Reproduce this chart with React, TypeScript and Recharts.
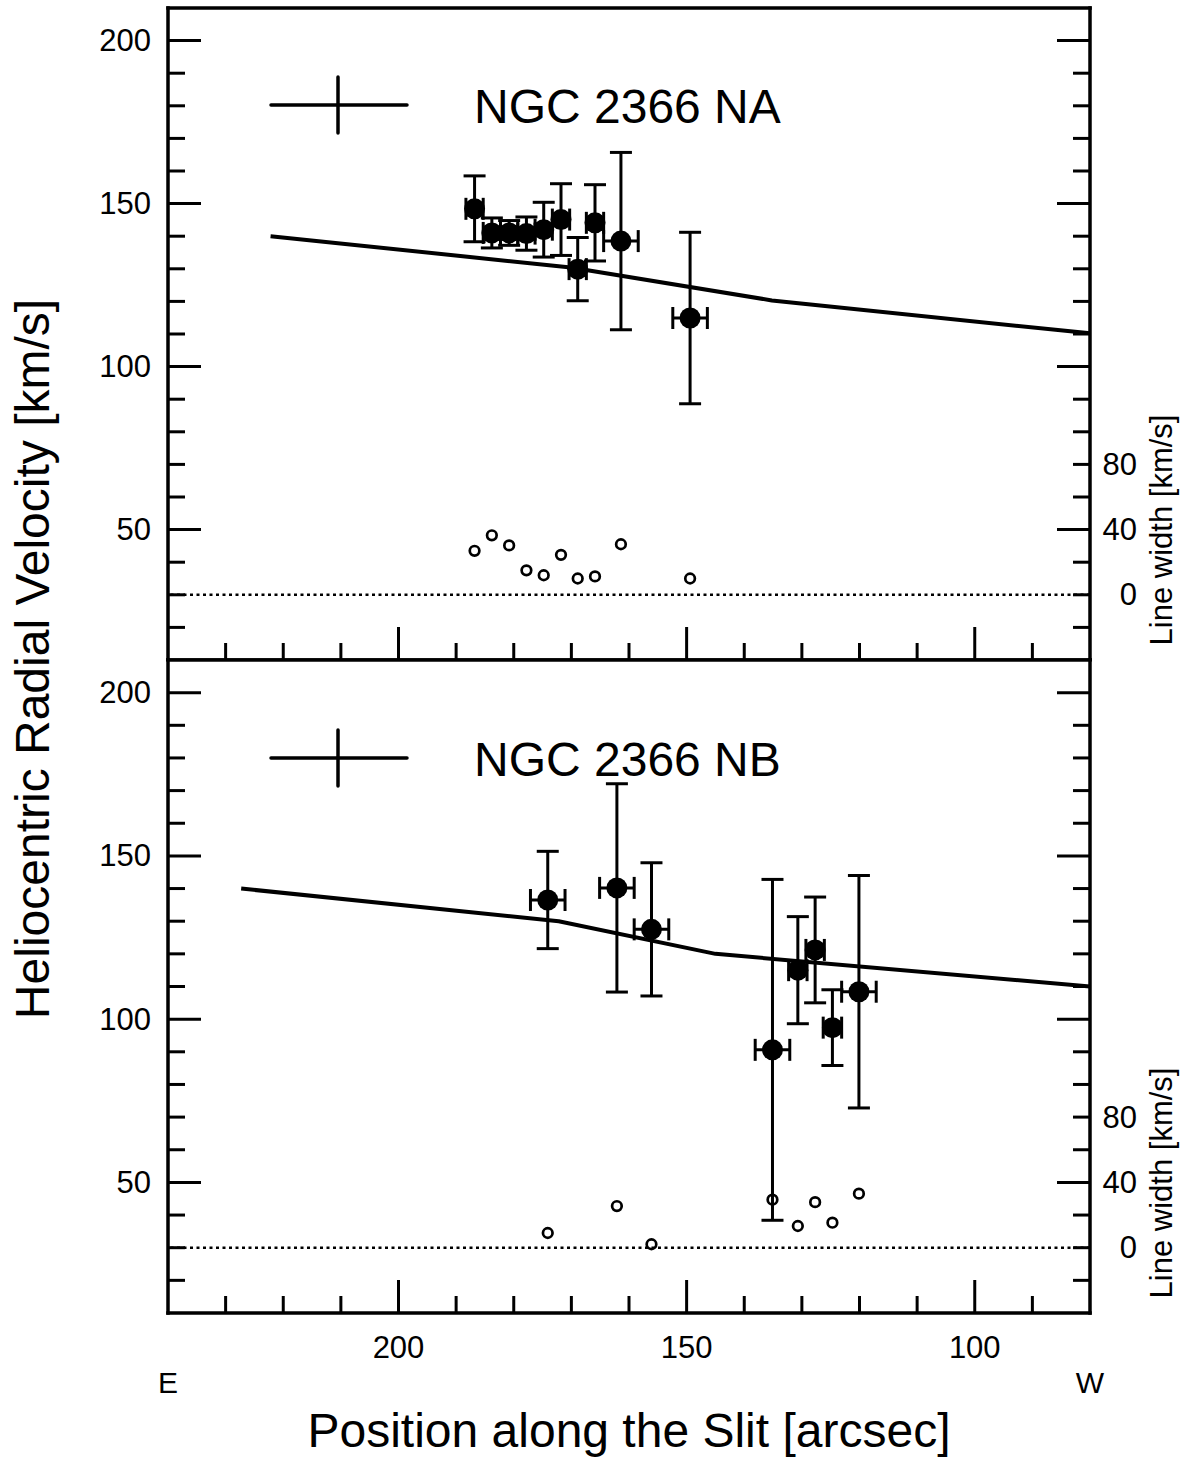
import React from "react";
import {
  ComposedChart,
  Line,
  Scatter,
  XAxis,
  YAxis,
  ErrorBar,
  ReferenceLine,
} from "recharts";

// NGC 2366 NA / NB: velocidad heliocéntrica vs. posición en la rendija.
// Dos paneles apilados, ticks hacia dentro, eje derecho = ancho de línea.

const FONT = "'Liberation Sans', Arial, Helvetica, sans-serif";
const INK = "#000";

// ---- datos ----
const naPos = [186.8, 183.8, 180.8, 177.8, 174.8, 171.8, 168.9, 165.9, 161.4, 149.4];
const naVel = [148.4, 141.0, 141.0, 140.8, 142.0, 145.1, 129.9, 144.1, 138.5, 114.9];
const naVelErr = [10.1, 4.6, 3.8, 5.1, 8.4, 11.0, 9.7, 11.7, 27.2, 26.3];
const naPosErr = [1.5, 1.5, 1.5, 1.5, 1.5, 1.5, 1.5, 1.5, 3.0, 3.0];
const naWidth = [27, 36.5, 30.3, 15, 12, 24.5, 10, 11.3, 31, 10];
const naModelPos = [222.2, 170.1, 135.2, 80];
const naModelVel = [140, 130.4, 120.3, 110.2];

const nbPos = [174.1, 162.1, 156.1, 135.1, 130.7, 127.7, 124.7, 120.1];
const nbVel = [136.5, 140.2, 127.5, 90.6, 115.0, 121.2, 97.4, 108.4];
const nbVelErr = [14.9, 31.9, 20.4, 52.2, 16.4, 16.2, 11.6, 35.6];
const nbPosErr = [3.0, 3.0, 3.0, 3.0, 1.6, 1.6, 1.6, 3.0];
const nbWidth = [9, 25.5, 2.1, 29.4, 13.3, 27.9, 15.3, 33.1];
const nbModelPos = [227.3, 172.2, 145.0, 80];
const nbModelVel = [140, 130, 120, 110];

// ---- ejes ----
const posTicks = [90, 100, 110, 120, 130, 140, 150, 160, 170, 180, 190, 200, 210, 220, 230];
const posLabels = [100, 150, 200];
const posEdges = [240, 80];
const posEdgeLabels = ["E", "W"];
const velTicks = [20, 30, 40, 50, 60, 70, 80, 90, 100, 110, 120, 130, 140, 150, 160, 170, 180, 190, 200];
const velLabels = [50, 100, 150, 200];
const widthTicks = [-20, 0, 20, 40, 60, 80, 100, 120, 140, 160, 180, 200, 220, 240, 260, 280, 300, 320, 340];
const widthLabels = [0, 40, 80];

const MAJOR = 33;
const MINOR = 17;
const TICK_W = 3;
const LABEL_SIZE = 31;

function PosTick(props: any) {
  const { x, y, payload, side, labels } = props;
  const v = payload.value;
  const edgeIdx = posEdges.indexOf(v);
  const len = v % 50 === 0 ? MAJOR : MINOR;
  const dir = side === "bottom" ? -1 : 1;
  return (
    <g>
      {edgeIdx < 0 && (
        <line x1={x} y1={y} x2={x} y2={y + dir * len} stroke={INK} strokeWidth={TICK_W} />
      )}
      {labels && posLabels.includes(v) && (
        <text x={x} y={y + 45} textAnchor="middle" fontSize={LABEL_SIZE} fontFamily={FONT} fill={INK}>
          {v}
        </text>
      )}
      {labels && edgeIdx >= 0 && (
        <text x={x} y={y + 80} textAnchor="middle" fontSize={30} fontFamily={FONT} fill={INK}>
          {posEdgeLabels[edgeIdx]}
        </text>
      )}
    </g>
  );
}

function VelTick(props: any) {
  const { x, y, payload } = props;
  const v = payload.value;
  const len = v % 50 === 0 ? MAJOR : MINOR;
  return (
    <g>
      <line x1={x} y1={y} x2={x + len} y2={y} stroke={INK} strokeWidth={TICK_W} />
      {velLabels.includes(v) && (
        <text x={x - 17} y={y} textAnchor="end" dominantBaseline="central" fontSize={LABEL_SIZE} fontFamily={FONT} fill={INK}>
          {v}
        </text>
      )}
    </g>
  );
}

function WidthTick(props: any) {
  const { x, y, payload } = props;
  const w = payload.value;
  const vel = w / 2 + 30;
  const len = vel % 50 === 0 ? MAJOR : MINOR;
  return (
    <g>
      <line x1={x} y1={y} x2={x - len} y2={y} stroke={INK} strokeWidth={TICK_W} />
      {widthLabels.includes(w) && (
        <text x={x + 47} y={y} textAnchor="end" dominantBaseline="central" fontSize={LABEL_SIZE} fontFamily={FONT} fill={INK}>
          {w}
        </text>
      )}
    </g>
  );
}

const FilledDot = (p: any) => <circle cx={p.cx} cy={p.cy} r={10.5} fill={INK} />;
const OpenDot = (p: any) => <circle cx={p.cx} cy={p.cy} r={4.8} fill="none" stroke={INK} strokeWidth={2.7} />;

const frame = { stroke: INK, strokeWidth: 3.5, strokeLinecap: "square" as const };

function Panel(props: any) {
  const { pos, vel, velErr, posErr, width, modelPos, modelVel, top, height, bottomHeight, labels } = props;
  const points = pos.map((p: number, i: number) => ({ x: p, v: vel[i], vErr: velErr[i], xErr: posErr[i] }));
  const widths = pos.map((p: number, i: number) => ({ x: p, lw: width[i] }));
  const model = modelPos.map((p: number, i: number) => ({ x: p, v: modelVel[i] }));
  const bottomTicks = labels ? [...posTicks, ...posEdges] : posTicks;
  return (
    <div style={{ position: "absolute", left: 0, top }}>
      <ComposedChart width={1193} height={height} margin={{ top: 0, right: 0, bottom: 0, left: 0 }}>
        <XAxis
          xAxisId="top"
          orientation="top"
          type="number"
          domain={[80, 240]}
          reversed
          ticks={posTicks}
          interval={0}
          height={8}
          tickSize={0}
          tickMargin={0}
          tickLine={false}
          axisLine={frame}
          tick={<PosTick side="top" />}
        />
        <XAxis
          dataKey="x"
          type="number"
          domain={[80, 240]}
          reversed
          ticks={bottomTicks}
          interval={0}
          height={bottomHeight}
          tickSize={0}
          tickMargin={0}
          tickLine={false}
          axisLine={frame}
          tick={<PosTick side="bottom" labels={labels} />}
        />
        <YAxis
          type="number"
          domain={[10, 210]}
          ticks={velTicks}
          interval={0}
          width={168}
          tickSize={0}
          tickMargin={0}
          tickLine={false}
          axisLine={frame}
          tick={<VelTick />}
        />
        <YAxis
          yAxisId="lw"
          orientation="right"
          type="number"
          domain={[-40, 360]}
          ticks={widthTicks}
          interval={0}
          width={103}
          tickSize={0}
          tickMargin={0}
          tickLine={false}
          axisLine={frame}
          tick={<WidthTick />}
        />
        <ReferenceLine yAxisId="lw" y={0} stroke={INK} strokeWidth={2.5} strokeDasharray="3 3.5" />
        <Line
          data={model}
          dataKey="v"
          type="linear"
          stroke={INK}
          strokeWidth={4}
          strokeLinejoin="round"
          dot={false}
          isAnimationActive={false}
        />
        <Scatter data={points} dataKey="v" shape={FilledDot} isAnimationActive={false}>
          <ErrorBar dataKey="vErr" direction="y" width={11} stroke={INK} strokeWidth={3} isAnimationActive={false} />
          <ErrorBar dataKey="xErr" direction="x" width={11} stroke={INK} strokeWidth={3} isAnimationActive={false} />
        </Scatter>
        <Scatter data={widths} dataKey="lw" yAxisId="lw" shape={OpenDot} isAnimationActive={false} />
      </ComposedChart>
    </div>
  );
}

function LegendMark({ dy, name }: { dy: number; name: string }) {
  return (
    <g transform={`translate(0, ${dy})`}>
      <line x1={271} y1={105} x2={407} y2={105} stroke={INK} strokeWidth={3.5} strokeLinecap="round" />
      <line x1={338} y1={77} x2={338} y2={133} stroke={INK} strokeWidth={3.5} strokeLinecap="round" />
      <text x={474} y={123} fontSize={48} fontFamily={FONT} fill={INK}>
        {name}
      </text>
      <text
        x={1172}
        y={530}
        transform={`rotate(-90, 1172, 530)`}
        textAnchor="middle"
        fontSize={31}
        fontFamily={FONT}
        fill={INK}
      >
        Line width [km/s]
      </text>
    </g>
  );
}

export default function App() {
  return (
    <div style={{ position: "absolute", left: 0, top: 0, width: 1193, height: 1463, background: "#fff", fontFamily: FONT }}>
      <Panel
        pos={naPos}
        vel={naVel}
        velErr={naVelErr}
        posErr={naPosErr}
        width={naWidth}
        modelPos={naModelPos}
        modelVel={naModelVel}
        top={0}
        height={661}
        bottomHeight={1}
        labels={false}
      />
      <Panel
        pos={nbPos}
        vel={nbVel}
        velErr={nbVelErr}
        posErr={nbPosErr}
        width={nbWidth}
        modelPos={nbModelPos}
        modelVel={nbModelVel}
        top={652}
        height={811}
        bottomHeight={150}
        labels={true}
      />
      <svg width={1193} height={1463} style={{ position: "absolute", left: 0, top: 0, pointerEvents: "none" }}>
        <LegendMark dy={0} name="NGC 2366 NA" />
        <LegendMark dy={653} name="NGC 2366 NB" />
        <text
          x={49}
          y={659}
          transform="rotate(-90, 49, 659)"
          textAnchor="middle"
          fontSize={48}
          fontFamily={FONT}
          fill={INK}
        >
          Heliocentric Radial Velocity [km/s]
        </text>
        <text x={629} y={1447} textAnchor="middle" fontSize={48} fontFamily={FONT} fill={INK}>
          Position along the Slit [arcsec]
        </text>
      </svg>
    </div>
  );
}
